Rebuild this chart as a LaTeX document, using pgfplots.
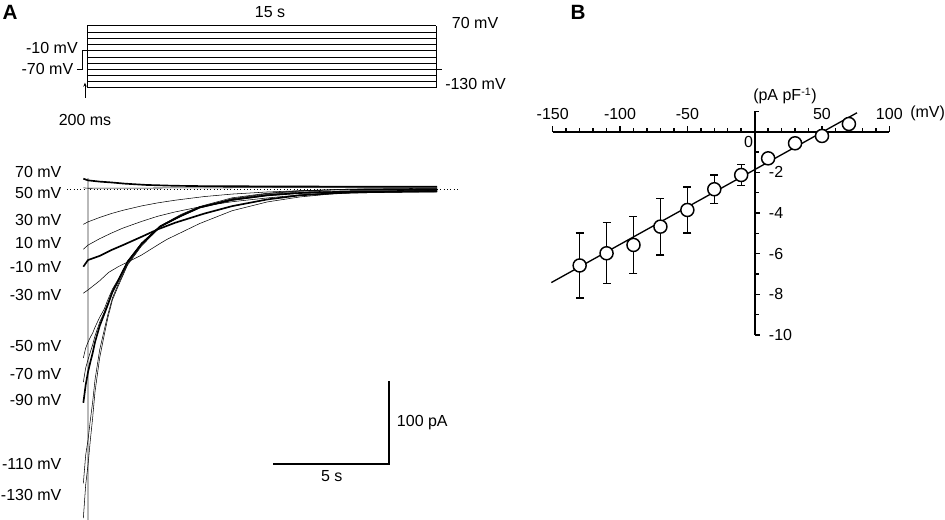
\documentclass[border=0pt]{standalone}
\usepackage{fontspec}
\setmainfont{Liberation Sans}
\usepackage{pgfplots}
\pgfplotsset{compat=1.18}
\usetikzlibrary{arrows.meta}

\begin{document}
\fontsize{12}{14}\selectfont
\begin{tikzpicture}
\path[use as bounding box] (0,0) rectangle (708.75pt,390pt);

% ---------- Panel A: voltage protocol ----------
\begin{axis}[at={(56.756pt,322.83pt)}, anchor=south west, scale only axis,
  width=279pt, height=49.07pt, xmin=-0.5, xmax=15.5, ymin=-135, ymax=75,
  axis lines=none, clip=false,
  cycle list={{black, solid, line width=0.75pt, mark=none}}]
\addplot coordinates {(0,70) (15,70)};
\addplot coordinates {(0,50) (15,50)};
\addplot coordinates {(0,30) (15,30)};
\addplot coordinates {(0,10) (15,10)};
\addplot coordinates {(0,-10) (15,-10)};
\addplot coordinates {(0,-30) (15,-30)};
\addplot coordinates {(0,-50) (15,-50)};
\addplot coordinates {(0,-70) (15,-70)};
\addplot coordinates {(0,-90) (15,-90)};
\addplot coordinates {(0,-110) (15,-110)};
\addplot coordinates {(0,-130) (15,-130)};
\addplot coordinates {(0,-130) (0,70)};
\addplot coordinates {(15,-130) (15,70)};
\addplot coordinates {(-0.45,-70) (-0.2,-70) (-0.2,-10) (0,-10)};
\addplot coordinates {(15,-70) (15.26,-70)};
\draw[line width=0.6pt,-{Stealth[length=3pt,width=2.5pt]}] (axis cs:-0.1,-162) -- (axis cs:-0.1,-113);
\end{axis}

% ---------- Panel A: current traces ----------
\begin{axis}[at={(48.55pt,-1.125pt)}, anchor=south west, scale only axis,
  width=300.18pt, height=267.68pt, xmin=-1, xmax=16.2, ymin=-400, ymax=30,
  axis lines=none, clip=false,
  cycle list={{black, solid, line width=1.25pt, mark=none}}]
% zero-current reference (dotted)
\addplot[black, line width=0.5pt, dotted] coordinates {(-0.9,0) (16,0)};
% capacitive artefact at step onset
\addplot[gray!55, line width=0.9pt] coordinates {(0,14) (0,-400)};
% +70 mV
\addplot coordinates {(-0.2,13) (0,11) (0.5,9.5) (1,8.5) (1.6,7) (2.5,5.5) (3.7,4.5) (5,4) (7,3.8) (10,3.5) (15,3.5)};
% +50 mV
\addplot coordinates {(-0.2,2) (0,1.5) (3,1.8) (7,2.2) (15,2.2)};
% +30 mV
\addplot coordinates {(-0.2,-42) (0,-39) (0.5,-33.7) (1,-29) (1.5,-25.1) (2.3,-19.8) (3,-16.1) (3.75,-12.9) (5,-8.5) (6.2,-5.5) (7.7,-3) (9.1,-1.5) (11.3,0.5) (15,1)};
% +10 mV
\addplot coordinates {(-0.2,-72) (0,-67) (0.5,-59.3) (1,-52.6) (1.5,-46.5) (2.3,-38.5) (3,-32.2) (3.75,-27) (5,-19.8) (6.2,-14.7) (7.7,-10.2) (9.1,-6.5) (11.3,-3) (15,-1)};
% -10 mV
\addplot coordinates {(-0.2,-93) (0,-85) (0.5,-80) (1,-73) (1.5,-67) (2.3,-57) (3,-48) (3.75,-40) (5,-29) (6.2,-20) (7.7,-12) (9.1,-7) (11.3,-3.5) (15,-2)};
% -30 mV
\addplot coordinates {(-0.2,-125) (0,-121) (0.5,-110) (0.88,-100) (1.3,-93) (1.73,-87) (2.3,-79) (3.1,-65) (3.4,-60) (4.8,-41) (6.2,-25.5) (7.7,-15) (9.1,-9) (10.6,-5) (12.5,-3.5) (15,-3)};
% -50 mV
\addplot coordinates {(-0.2,-203) (-0.1,-191) (0,-184) (0.1,-178) (0.2,-173) (0.3,-166) (0.5,-154) (0.7,-144) (0.85,-133) (1.05,-120) (1.3,-108) (1.7,-86) (2.3,-64.5) (3.1,-44) (4,-30) (4.8,-20.5) (6.2,-10) (7.7,-4.5) (9.1,-1.5) (11.3,0) (15,0)};
% -70 mV
\addplot coordinates {(-0.2,-232) (-0.1,-215) (0,-205) (0.1,-196) (0.2,-187) (0.3,-176.5) (0.5,-160) (0.7,-147.6) (0.85,-137) (1.05,-122) (1.3,-109) (1.7,-87.3) (2.3,-64.5) (3.1,-44) (4,-31) (4.8,-21) (6.2,-11.4) (7.7,-6) (9.1,-3) (11.3,-1.5) (15,-1)};
% -90 mV
\addplot coordinates {(-0.2,-257) (-0.1,-235.5) (0,-220) (0.1,-208) (0.2,-197) (0.3,-184) (0.5,-164.5) (0.7,-150) (0.85,-139) (1.05,-123.5) (1.3,-110) (1.7,-87.3) (2.3,-65.7) (3.1,-44.5) (4,-31.5) (4.8,-21.5) (6.2,-12.5) (7.7,-7) (9.1,-4.2) (11.3,-2.5) (15,-2)};
% -110 mV
\addplot coordinates {(-0.2,-354) (-0.1,-320) (0,-302) (0.1,-278) (0.2,-256) (0.3,-229.5) (0.5,-193.4) (0.7,-169) (0.85,-151) (1.05,-130.7) (1.3,-113.9) (1.7,-89.8) (2.3,-66.9) (3.1,-45.2) (4,-32) (4.8,-22) (6.2,-11) (7.7,-5) (9.1,-2) (11.3,0.5) (15,1.5)};
% -130 mV
\addplot coordinates {(-0.2,-396) (-0.1,-356) (0,-332) (0.1,-302) (0.2,-275) (0.3,-244) (0.5,-203) (0.7,-175) (0.85,-155) (1.05,-133) (1.3,-116.3) (1.7,-91) (2.3,-68) (3.1,-45.2) (4,-32.5) (4.8,-22.4) (6.2,-13) (7.7,-7.5) (9.1,-4.5) (11.3,-3) (15,-2.5)};
% scale bars: 5 s, 100 pA
\addplot[black, line width=1.5pt] coordinates {(7.95,-330.7) (12.95,-330.7) (12.95,-230.7)};
\end{axis}

% ---------- Panel B: I-V relation ----------
\begin{axis}[at={(414.525pt,138.75pt)}, anchor=south west, scale only axis,
  width=252.45pt, height=167.72pt, xmin=-150, xmax=100, ymin=-10, ymax=1,
  axis lines=middle, axis line style={-, line width=1.5pt},
  xtick={-150,-100,-50,50,100}, xticklabels={-150,-100,-50,50,100},
  minor xtick={-140,-130,-120,-110,-90,-80,-70,-60,-40,-30,-20,-10,10,20,30,40,60,70,80,90},
  ytick={-10,-8,-6,-4,-2}, yticklabels={-10,-8,-6,-4,-2},
  minor ytick={-9,-7,-5,-3,-1,1},
  tick align=inside, major tick length=4pt, minor tick length=3pt,
  tick style={line width=1.1pt, black},
  xticklabel style={anchor=south, yshift=4.6pt},
  yticklabel style={anchor=west, xshift=6.5pt},
  clip=false]
\addplot[black, line width=1pt, mark=none] coordinates {(-151,-7.42) (76,0.93)};
\addplot[black, only marks, mark=*, mark size=0.1pt,
  error bars/.cd, y dir=both, y explicit,
  error bar style={line width=0.9pt, black},
  error mark options={rotate=90, mark size=3pt, line width=0.9pt, black}]
  coordinates {(-130,-6.58) +- (0,1.6) (-110,-5.98) +- (0,1.5) (-90,-5.57) +- (0,1.4)
               (-70,-4.67) +- (0,1.4) (-50,-3.85) +- (0,1.13) (-30,-2.83) +- (0,0.7)
               (-10,-2.13) +- (0,0.53) (10,-1.31) +- (0,0.2)};
\addplot[only marks, mark=*, mark size=4.9pt, mark options={fill=white, draw=black, line width=1.1pt}]
  coordinates {(-130,-6.58) (-110,-5.98) (-90,-5.57) (-70,-4.67) (-50,-3.85) (-30,-2.83)
               (-10,-2.13) (10,-1.31) (30,-0.57) (50,-0.21) (70,0.38)};
\end{axis}

% ---------- text ----------
\begin{scope}[x=0.75pt,y=-0.75pt,shift={(0pt,390pt)}, every node/.style={inner sep=0pt}]
\node[font=\fontsize{15.5}{16}\selectfont\bfseries] at (10,12.5) {A};
\node[font=\fontsize{15.5}{16}\selectfont\bfseries] at (578,12) {B};
% protocol labels
\node at (270,12) {15 s};
\node[anchor=west] at (451.7,23) {70 mV};
\node[anchor=west] at (445,84) {-130 mV};
\node[anchor=east] at (78,48) {-10 mV};
\node[anchor=east] at (73.5,69) {-70 mV};
\node at (85,120) {200 ms};
% trace labels
\node[anchor=east] at (61.7,172) {70 mV};
\node[anchor=east] at (61.7,193.3) {50 mV};
\node[anchor=east] at (61.7,220) {30 mV};
\node[anchor=east] at (61.7,243) {10 mV};
\node[anchor=east] at (61.7,267) {-10 mV};
\node[anchor=east] at (61.7,295) {-30 mV};
\node[anchor=east] at (61.7,346) {-50 mV};
\node[anchor=east] at (61.7,374) {-70 mV};
\node[anchor=east] at (61.7,400) {-90 mV};
\node[anchor=east] at (61.7,464) {-110 mV};
\node[anchor=east] at (61.7,495) {-130 mV};
\node[anchor=west] at (396.7,422.5) {100 pA};
\node at (331.7,476) {5 s};
% panel B labels
\node at (748.5,142) {0};
\node at (785,96) {(pA pF\textsuperscript{-1})};
\node[anchor=west] at (910,113) {(mV)};
\end{scope}
\end{tikzpicture}
\end{document}
